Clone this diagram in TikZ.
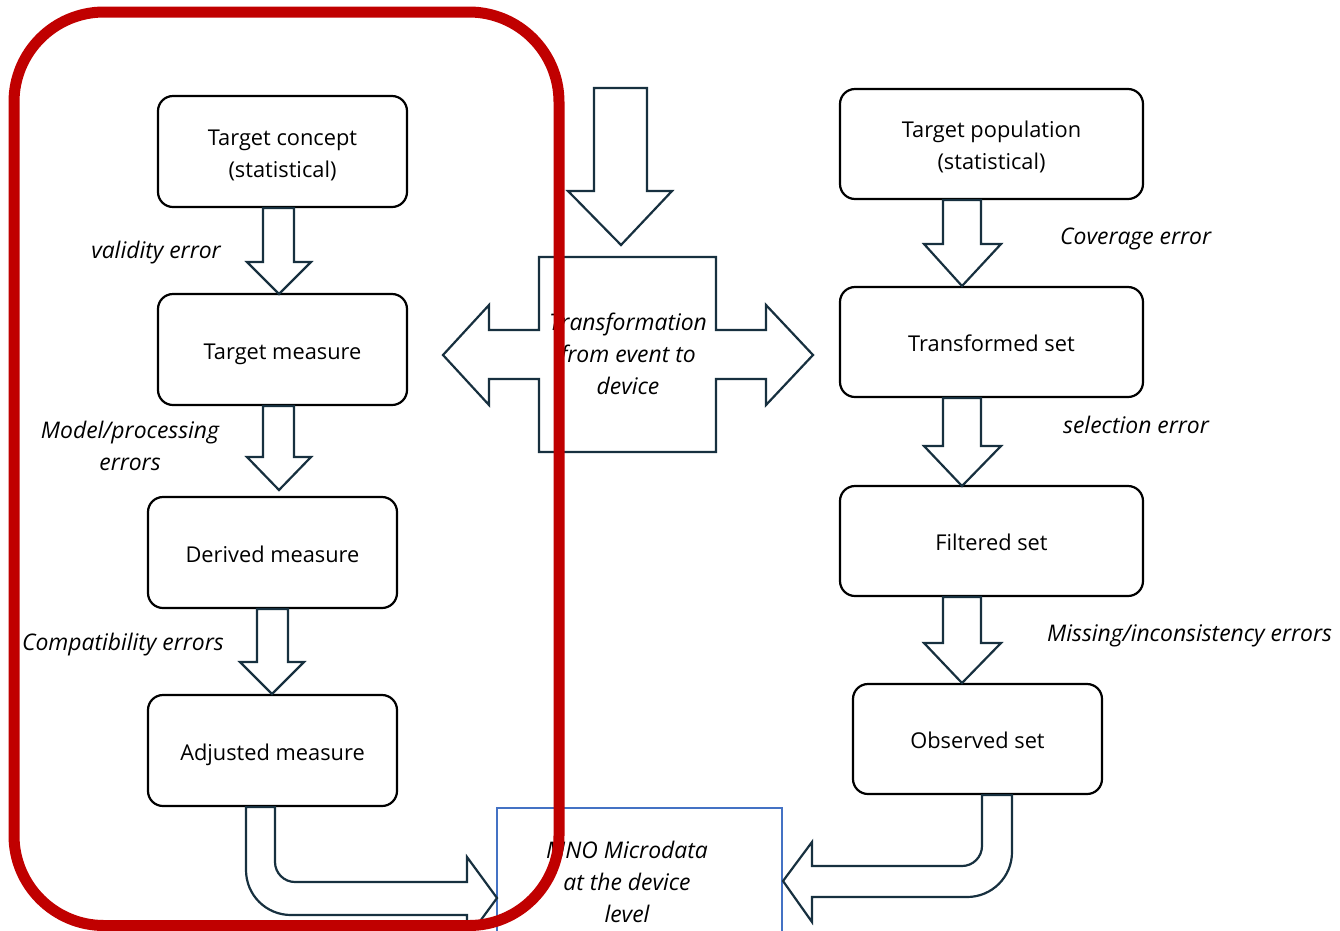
\documentclass[tikz,border=0pt]{standalone}
\usepackage{fontspec}
\setmainfont{Open Sans}
% box text, set a little below the geometric centre of its box
\newcommand\boxtext[1]{\raisebox{-3.2pt}[\height][\depth]{\begin{tabular}{@{}c@{}}#1\end{tabular}}}
\begin{document}
\begin{tikzpicture}[x=1pt,y=-1pt,
  box/.style={draw=black, line width=2.2pt, rounded corners=15pt, fill=white,
    font=\fontsize{21.8}{32}\selectfont, inner sep=0pt},
  lbl/.style={font=\fontsize{22.9}{32}\selectfont\itshape, align=center, inner sep=0pt},
  blockarrow/.style={draw=arrowc, line width=2.2pt, fill=white, line join=miter},
  frame/.style={draw=framec, line width=11pt, rounded corners=90pt}]
\definecolor{arrowc}{HTML}{17303F}
\definecolor{framec}{HTML}{C00000}
\definecolor{mnoc}{HTML}{4472C4}
\useasboundingbox (0,0) rectangle (1340,930);
\clip (0,0) rectangle (1340,930);

% left column: from the statistical concept to the adjusted measure
\node[box, minimum width=249pt, minimum height=111pt] (concept) at (282.5,151.5) {\boxtext{Target concept\\(statistical)}};
\node[box, minimum width=249pt, minimum height=111pt] (tmeasure) at (282.5,349.5) {\boxtext{Target measure}};
\node[box, minimum width=249pt, minimum height=111pt] (derived) at (272.5,552.5) {\boxtext{Derived measure}};
\node[box, minimum width=249pt, minimum height=111pt] (adjusted) at (272.5,750.5) {\boxtext{Adjusted measure}};

% right column: from the population to the observed set
\node[box, minimum width=303pt, minimum height=110pt] (population) at (991.5,144) {\boxtext{Target population\\(statistical)}};
\node[box, minimum width=303pt, minimum height=110pt] (transformed) at (991.5,342) {\boxtext{Transformed set}};
\node[box, minimum width=303pt, minimum height=110pt] (filtered) at (991.5,541) {\boxtext{Filtered set}};
\node[box, minimum width=249pt, minimum height=110pt] (observed) at (977.5,739) {\boxtext{Observed set}};

% block arrows, left column
\draw[blockarrow] (263,208) -- (294,208) -- (294,262) -- (311,262) -- (279,294) -- (247,262) -- (263,262) -- cycle;
\draw[blockarrow] (263,406) -- (294,406) -- (294,457) -- (311,457) -- (279,490) -- (247,457) -- (263,457) -- cycle;
\draw[blockarrow] (257,609) -- (288,609) -- (288,662) -- (304,662) -- (272,694) -- (240,662) -- (257,662) -- cycle;

% block arrows, right column
\draw[blockarrow] (943,200) -- (981,200) -- (981,244) -- (1001,244) -- (962,286) -- (924,244) -- (943,244) -- cycle;
\draw[blockarrow] (943,398) -- (981,398) -- (981,446) -- (1001,446) -- (962,486) -- (924,446) -- (943,446) -- cycle;
\draw[blockarrow] (943,597) -- (981,597) -- (981,643) -- (1001,643) -- (962,683) -- (924,643) -- (943,643) -- cycle;

% arrow entering the transformation from above
\draw[blockarrow] (594,88) -- (647,88) -- (647,191) -- (672,191) -- (621,245) -- (568,191) -- (594,191) -- cycle;

% transformation: a box with arrows to both sides
\draw[blockarrow] (539,257) -- (716,257) -- (716,330) -- (766,330) -- (766,305) -- (813,355)
  -- (766,405) -- (766,379) -- (716,379) -- (716,452) -- (539,452) -- (539,379)
  -- (489,379) -- (489,405) -- (443,355) -- (489,305) -- (489,330) -- (539,330) -- cycle;
\node[lbl] (transf) at (628,354) {Transformation\\from event to\\device};

% MNO microdata box
\draw[draw=mnoc, line width=1.6pt] (497,808) rectangle (782,990);
\node[lbl] (mno) at (627,882) {MNO Microdata\\at the device\\level};
\coordinate (mnoW) at (497,898);
\coordinate (mnoE) at (783,881);

% bent arrows into the MNO box
\draw[blockarrow] (adjusted.south -| 246,0) -- (adjusted.south -| 275,0) -- (275,862)
  .. controls (275,873) and (284,882) .. (295,882) -- (467,882) -- (467,857) -- (mnoW)
  -- (467,939) -- (467,915) -- (291,915) .. controls (266,915) and (246,895) .. (246,870) -- cycle;
\draw[blockarrow] (observed.south -| 982,0) -- (observed.south -| 1012,0) -- (1012,852)
  .. controls (1012,877) and (992,897) .. (967,897) -- (812,897) -- (812,922) -- (mnoE)
  -- (812,842) -- (812,866) -- (962,866) .. controls (973,866) and (982,857) .. (982,846) -- cycle;

% error labels
\node[lbl, anchor=east] (validity) at (221,253) {validity error};
\node[lbl] (model) at (130,446) {Model/processing\\errors};
\node[lbl, anchor=east] (compat) at (224,645) {Compatibility errors};
\node[lbl, anchor=west] (coverage) at (1060,239) {Coverage error};
\node[lbl, anchor=west] (selection) at (1063,425) {selection error};
\node[lbl, anchor=west] (missing) at (1047,636) {Missing/inconsistency errors};

% frame around the measure column
\draw[frame] (14,12) rectangle (559,925.5);
\end{tikzpicture}
\end{document}
